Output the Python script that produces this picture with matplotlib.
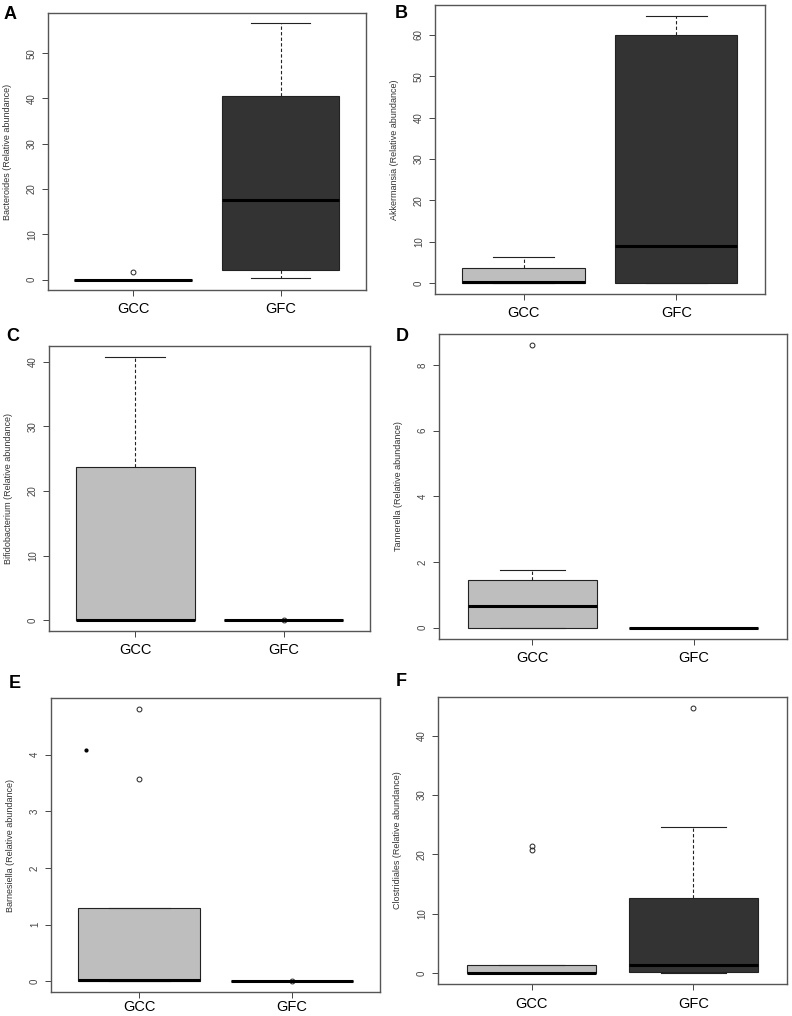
import matplotlib.pyplot as plt
import numpy as np

plt.rcParams['font.family'] = ['Liberation Sans', 'DejaVu Sans']

# panel letters and taxa (y labels)
panels = ["A", "B", "C", "D", "E", "F"]
taxa = ["Bacteroides", "Akkermansia", "Bifidobacterium",
        "Tannerella", "Barnesiella", "Clostridiales"]
groups = ["GCC", "GFC"]

# box statistics per panel, [GCC, GFC]
whislo = [[0, 0.4], [0, 0], [0, 0], [0, 0], [0, 0], [0, 0]]
q1 = [[0, 2.1], [0, 0], [0, 0], [0, 0], [0, 0], [0, 0.17]]
med = [[0, 17.6], [0.3, 8.9], [0.05, 0], [0.67, 0], [0.02, 0], [0, 1.34]]
q3 = [[0, 40.6], [3.8, 59.9], [23.75, 0], [1.44, 0], [1.30, 0], [1.46, 12.7]]
whishi = [[0, 56.6], [6.4, 64.6], [40.8, 0], [1.77, 0], [1.30, 0], [1.46, 24.6]]
fliers = [[[1.8], []], [[], []], [[], [0]], [[8.6], []],
          [[3.57, 4.81], [0]], [[20.7, 21.5], [44.7]]]
yticks = [range(0, 51, 10), range(0, 61, 10), range(0, 41, 10),
          range(0, 9, 2), range(0, 5, 1), range(0, 41, 10)]
# stray mark in panel E
stray_x = [0.65]
stray_y = [4.08]

fills = ["#bebebe", "#333333"]

# axes boxes in pixels: left, right, top, bottom
boxes_px = [(48, 366, 13, 290), (435, 765, 5, 294),
            (49, 370, 346, 631), (439, 787, 334, 639),
            (51, 380, 698, 992), (438, 787, 697, 984)]
letter_px = [(4, 19), (395, 18), (6, 341), (396, 341), (9, 688), (396, 686)]

W, H = 792, 1016
fig = plt.figure(figsize=(W / 100, H / 100), dpi=100)

for i in range(6):
    l, r, t, b = boxes_px[i]
    ax = fig.add_axes([l / W, 1 - b / H, (r - l) / W, (b - t) / H])
    stats = []
    for g in range(2):
        stats.append(dict(med=med[i][g], q1=q1[i][g], q3=q3[i][g],
                          whislo=whislo[i][g], whishi=whishi[i][g],
                          fliers=fliers[i][g]))
    bp = ax.bxp(stats, positions=[1, 2], widths=0.8, patch_artist=True,
                showfliers=True,
                boxprops=dict(edgecolor="#222222", linewidth=0.8),
                medianprops=dict(color="black", linewidth=2.2,
                                 solid_capstyle="butt"),
                whiskerprops=dict(color="#222222", linestyle=(0, (3, 2)),
                                  linewidth=0.8),
                capprops=dict(color="#222222", linewidth=0.8),
                capwidths=0.4,
                flierprops=dict(marker="o", markersize=3.5,
                                markerfacecolor="none",
                                markeredgecolor="#222222",
                                markeredgewidth=0.7))
    for patch, c in zip(bp["boxes"], fills):
        patch.set_facecolor(c)
    if panels[i] == "E":
        ax.plot(stray_x, stray_y, "o", color="black", markersize=2)

    lo = min(min(whislo[i]), min(min(f) if f else 0 for f in fliers[i]))
    hi = max(max(whishi[i]), max(max(f) if f else 0 for f in fliers[i]))
    pad = (hi - lo) * 0.04
    ax.set_ylim(lo - pad, hi + pad)
    ax.set_xlim(0.42, 2.58)

    ax.set_yticks(list(yticks[i]))
    ax.set_yticklabels([str(v) for v in yticks[i]], rotation=90,
                       va="center", fontsize=7, color="#444444")
    ax.set_xticks([1, 2])
    ax.set_xticklabels(groups, fontsize=10.5)
    ax.tick_params(axis="y", length=4, width=0.7, colors="#444444",
                   pad=4, labelcolor="#444444")
    ax.tick_params(axis="x", length=4, width=0.7, colors="#444444",
                   pad=2 if panels[i] == "E" else 5, labelcolor="black")
    for s in ax.spines.values():
        s.set_color("#555555")
        s.set_linewidth(1.0)

    ax.set_ylabel(taxa[i] + " (Relative abundance)", fontsize=6.5,
                  color="#333333")
    ax.yaxis.set_label_coords(-36 / (r - l), 0.5)

    lx, ly = letter_px[i]
    fig.text(lx / W, 1 - ly / H, panels[i], fontsize=13, fontweight="bold",
             ha="left", va="baseline")

fig.savefig("out.png", dpi=100)
